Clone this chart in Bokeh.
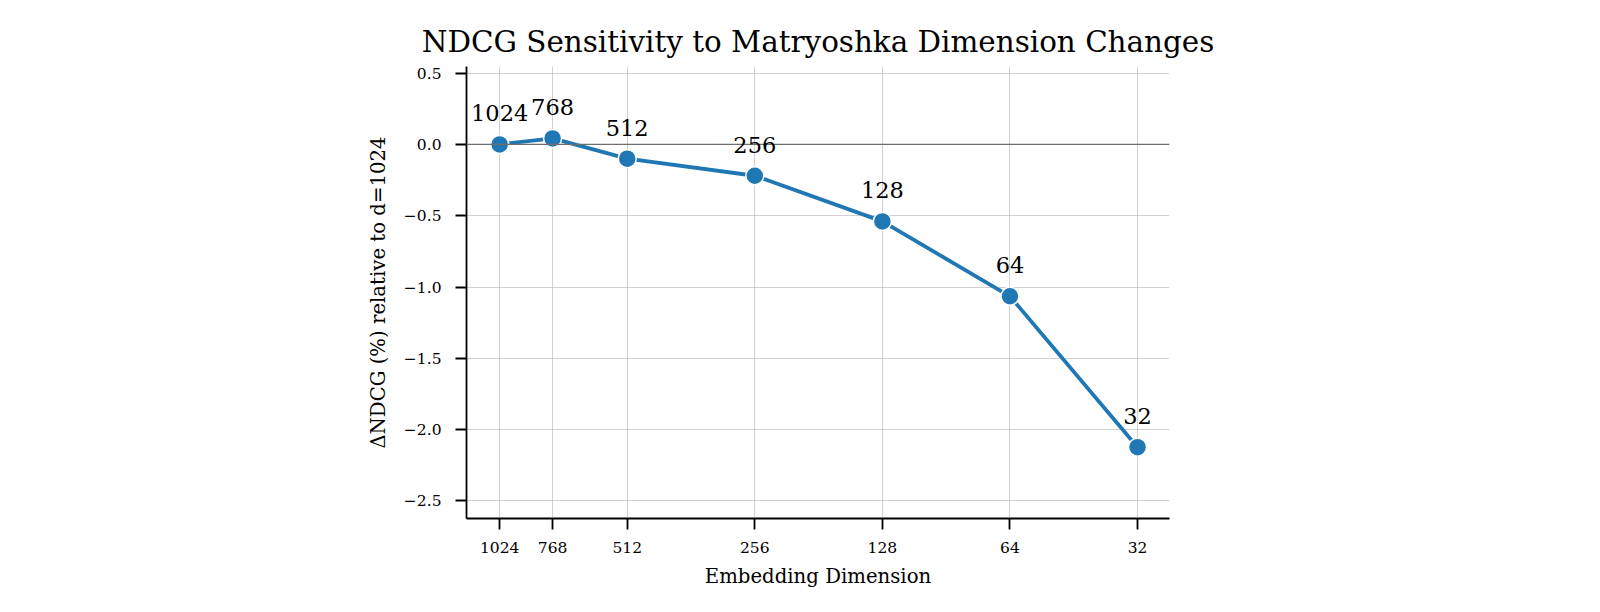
from bokeh.plotting import figure
from bokeh.models import Range1d, FixedTicker, CustomJSTickFormatter, Span, ColumnDataSource, LabelSet
from bokeh.core.properties import value
from bokeh.embed import file_html
from bokeh.resources import INLINE

dims = [1024, 768, 512, 256, 128, 64, 32]
delta_ndcg = [0.0, 0.042, -0.10, -0.22, -0.54, -1.065, -2.123]
dim_labels = [str(d) for d in dims]
y_ticks = [-2.5, -2.0, -1.5, -1.0, -0.5, 0.0, 0.5]

FONT = "DejaVu Serif"

W, H = 1584, 596
p = figure(width=W, height=H, output_backend="svg", toolbar_location=None,
           x_axis_type="log",
           x_range=Range1d(1226, 26.9), y_range=Range1d(-2.623, 0.546),
           min_border_left=466, min_border_right=415, min_border_top=66, min_border_bottom=78)

p.title.text = "NDCG Sensitivity to Matryoshka Dimension Changes"
p.title.text_font = FONT
p.title.text_font_size = "29.4px"
p.title.text_font_style = "normal"
p.title.align = "center"
p.title.text_color = "black"
p.title.standoff = 15

p.outline_line_color = None
p.background_fill_color = "white"
p.border_fill_color = "white"

# axes
for ax in (p.xaxis[0], p.yaxis[0]):
    ax.axis_line_color = "black"
    ax.axis_line_width = 1.8
    ax.major_tick_line_color = "black"
    ax.major_tick_line_width = 1.8
    ax.major_tick_out = 11
    ax.major_tick_in = 0
    ax.minor_tick_line_color = None
    ax.major_label_text_font = FONT
    ax.major_label_text_font_size = "15.5px"
    ax.major_label_text_color = "black"
    ax.axis_label_text_font = FONT
    ax.axis_label_text_font_size = "19.7px"
    ax.axis_label_text_font_style = "normal"
    ax.axis_label_text_color = "black"

p.xaxis.ticker = FixedTicker(ticks=dims)
p.xaxis.formatter = CustomJSTickFormatter(code="return Math.round(tick).toString();")
p.xaxis.axis_label = "Embedding Dimension"
p.xaxis.major_label_standoff = 12
p.xaxis.axis_label_standoff = 9

p.yaxis.ticker = FixedTicker(ticks=y_ticks)
p.yaxis.formatter = CustomJSTickFormatter(code="return tick.toFixed(1).replace('-', '\u2212');")
p.yaxis.axis_label = "\u0394NDCG (%) relative to d=1024"
p.yaxis.major_label_standoff = 14
p.yaxis.axis_label_standoff = 11

p.xgrid.grid_line_color = "#b0b0b0"
p.xgrid.grid_line_alpha = 0.6
p.xgrid.grid_line_width = 1
p.ygrid.grid_line_color = "#b0b0b0"
p.ygrid.grid_line_alpha = 0.6
p.ygrid.grid_line_width = 1

p.add_layout(Span(location=0, dimension="width", line_color="#6e6e6e", line_width=1.2))

src = ColumnDataSource(dict(x=dims, y=delta_ndcg, lab=dim_labels))
p.line("x", "y", source=src, line_color="#1f77b4", line_width=3.8)
p.scatter("x", "y", source=src, size=18, fill_color="#1f77b4", line_color="white", line_width=1.5)

labels = LabelSet(x="x", y="y", text="lab", source=src, text_align="center",
                  text_baseline="alphabetic", y_offset=23, text_font=value(FONT),
                  text_font_size=value("22.5px"), text_color="black")
p.add_layout(labels)

open("out.html", "w").write(file_html(p, INLINE))
